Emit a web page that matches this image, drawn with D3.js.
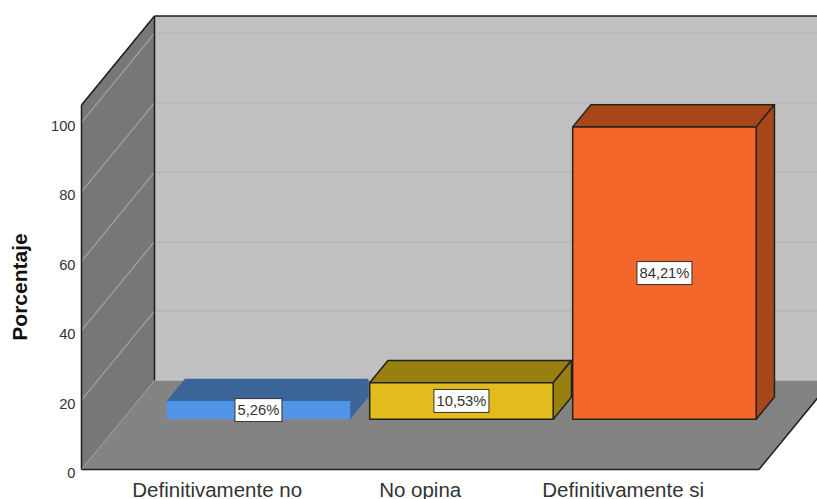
<!doctype html>
<html>
<head>
  <meta charset="utf-8">
  <title>Porcentaje</title>
  <script src="https://cdnjs.cloudflare.com/ajax/libs/d3/7.8.5/d3.min.js"></script>
  <style>
    html, body { margin: 0; padding: 0; background: #fff; overflow: hidden; }
    svg { display: block; font-family: "Liberation Sans", Arial, sans-serif; }
    .domain { display: none; }
  </style>
</head>
<body>
  <div id="chart"></div>
  <script>
    // values
    const categories = ['Definitivamente no', 'No opina', 'Definitivamente si'];
    const percentages = [5.26, 10.53, 84.21];
    const valueLabels = ['5,26%', '10,53%', '84,21%'];
    const yTicks = [0, 20, 40, 60, 80, 100];
    const yTop = 105;
    const frontColors = ['#5294e6', '#e2bc1c', '#f4672a'];
    const darkColors = ['#3b6499', '#97800f', '#a64619'];
    const barStrokes = ['none', '#222', '#222'];

    const width = 817, height = 499;

    const svg = d3.select('#chart').append('svg')
      .attr('width', width)
      .attr('height', height);

    const y = d3.scaleLinear().domain([0, yTop]).range([469.5, 105]);
    const x = d3.scaleBand().domain(categories)
      .range([115.7, 724.7])
      .paddingInner(0.096)
      .paddingOuter(0.048);

    // the oblique depth of the box, 0 = front edge, 1 = back wall
    const depthX = d3.scaleLinear().domain([0, 1]).range([0, 73]);
    const depthY = d3.scaleLinear().domain([0, 1]).range([0, -89]);
    const left = 81.5, right = 759;

    const pts = arr => arr.map(p => p.join(',')).join(' ');
    const back = (px, py, d = 1) => [px + depthX(d), py + depthY(d)];

    // back wall
    svg.append('polygon')
      .attr('points', pts([back(left, y(yTop)), back(900, y(yTop)), back(900, y(0)), back(left, y(0))]))
      .attr('fill', '#c0c0c0');

    // left wall
    svg.append('polygon')
      .attr('points', pts([[left, y(0)], [left, y(yTop)], back(left, y(yTop)), back(left, y(0))]))
      .attr('fill', '#777777');

    // floor
    svg.append('polygon')
      .attr('points', pts([[left, y(0)], [right, y(0)], back(right, y(0)), back(left, y(0))]))
      .attr('fill', '#838383');

    // gridlines on both walls
    const grid = yTicks.filter(d => d > 0);
    svg.selectAll('line.gridBack')
      .data(grid)
      .join('line')
      .attr('class', 'gridBack')
      .attr('x1', back(left, 0)[0])
      .attr('x2', width)
      .attr('y1', d => back(left, y(d))[1])
      .attr('y2', d => back(left, y(d))[1])
      .attr('stroke', '#b6b6b6')
      .attr('stroke-width', 1.5);

    svg.selectAll('line.gridLeft')
      .data(grid)
      .join('line')
      .attr('class', 'gridLeft')
      .attr('x1', left)
      .attr('x2', back(left, 0)[0])
      .attr('y1', d => y(d))
      .attr('y2', d => back(left, y(d))[1])
      .attr('stroke', '#a3a3a3')
      .attr('stroke-width', 1.2);

    // frame edges
    const edges = [
      [[left, y(0)], [left, y(yTop)]],
      [[left, y(yTop)], back(left, y(yTop))],
      [back(left, y(yTop)), [width, back(left, y(yTop))[1]]],
      [back(left, y(yTop)), back(left, y(0))],
      [[left, y(0)], [right, y(0)]],
      [[right, y(0)], back(right, y(0))]
    ];
    svg.selectAll('line.edge')
      .data(edges)
      .join('line')
      .attr('class', 'edge')
      .attr('x1', d => d[0][0])
      .attr('y1', d => d[0][1])
      .attr('x2', d => d[1][0])
      .attr('y2', d => d[1][1])
      .attr('stroke', '#1c1c1c')
      .attr('stroke-width', 1.5);

    // floor edge along the left wall, dotted
    svg.append('line')
      .attr('x1', left).attr('y1', y(0))
      .attr('x2', back(left, 0)[0]).attr('y2', back(left, y(0))[1])
      .attr('stroke', '#a8a8a8')
      .attr('stroke-dasharray', '1 1');

    // bars stand 0.565 of the way back, with a 0.25 deep box
    const barDepth = 0.25, barFront = 0.565;
    const baseY = y(0) + depthY(barFront);
    const barH = d => y(0) - y(d);
    const bars = svg.selectAll('g.bar')
      .data(categories.map((c, i) => ({ c, v: percentages[i], label: valueLabels[i], i })))
      .join('g')
      .attr('class', 'bar')
      .attr('stroke', d => barStrokes[d.i])
      .attr('stroke-width', 1.5)
      .attr('stroke-linejoin', 'round');

    const barX = d => x(d.c) + depthX(barFront);

    bars.append('polygon')
      .attr('points', d => {
        const x0 = barX(d), x1 = x0 + x.bandwidth(), t = baseY - barH(d.v);
        return pts([[x0, t], [x1, t], back(x1, t, barDepth), back(x0, t, barDepth)]);
      })
      .attr('fill', d => darkColors[d.i]);

    bars.append('polygon')
      .attr('points', d => {
        const x1 = barX(d) + x.bandwidth(), t = baseY - barH(d.v);
        return pts([[x1, t], [x1, baseY], back(x1, baseY, barDepth), back(x1, t, barDepth)]);
      })
      .attr('fill', d => darkColors[d.i]);

    bars.append('rect')
      .attr('x', barX)
      .attr('y', d => baseY - barH(d.v))
      .attr('width', x.bandwidth())
      .attr('height', d => barH(d.v))
      .attr('fill', d => frontColors[d.i]);

    // value labels
    const labels = svg.selectAll('g.valueLabel')
      .data(bars.data())
      .join('g')
      .attr('class', 'valueLabel')
      .attr('transform', d => `translate(${barX(d) + x.bandwidth() / 2},${baseY - barH(d.v) / 2})`);

    labels.append('rect')
      .attr('x', d => d.i === 0 ? -23.5 : -27.5)
      .attr('y', -11.5)
      .attr('width', d => d.i === 0 ? 47 : 55)
      .attr('height', 23)
      .attr('fill', '#fff')
      .attr('stroke', '#333')
      .attr('stroke-width', 1);

    labels.append('text')
      .attr('text-anchor', 'middle')
      .attr('dy', '0.36em')
      .attr('font-size', 14.7)
      .attr('fill', '#333')
      .text(d => d.label);

    // y axis
    const yAxis = svg.append('g')
      .attr('transform', `translate(${left},0)`)
      .call(d3.axisLeft(y).tickValues(yTicks).tickSize(0).tickPadding(6));
    yAxis.selectAll('text')
      .attr('font-size', 14.7)
      .attr('font-family', '"Liberation Sans", Arial, sans-serif')
      .attr('fill', '#333')
      .attr('dy', '0.55em');

    // x axis
    const xAxis = svg.append('g')
      .attr('transform', `translate(0,${y(0)})`)
      .call(d3.axisBottom(x).tickSize(0).tickPadding(13));
    xAxis.selectAll('text')
      .attr('font-size', 20.5)
      .attr('font-family', '"Liberation Sans", Arial, sans-serif')
      .attr('fill', '#333');

    // axis title
    svg.append('text')
      .attr('transform', 'translate(27,287) rotate(-90)')
      .attr('text-anchor', 'middle')
      .attr('font-size', 21)
      .attr('font-weight', 'bold')
      .attr('fill', '#111')
      .text('Porcentaje');
  </script>
</body>
</html>
